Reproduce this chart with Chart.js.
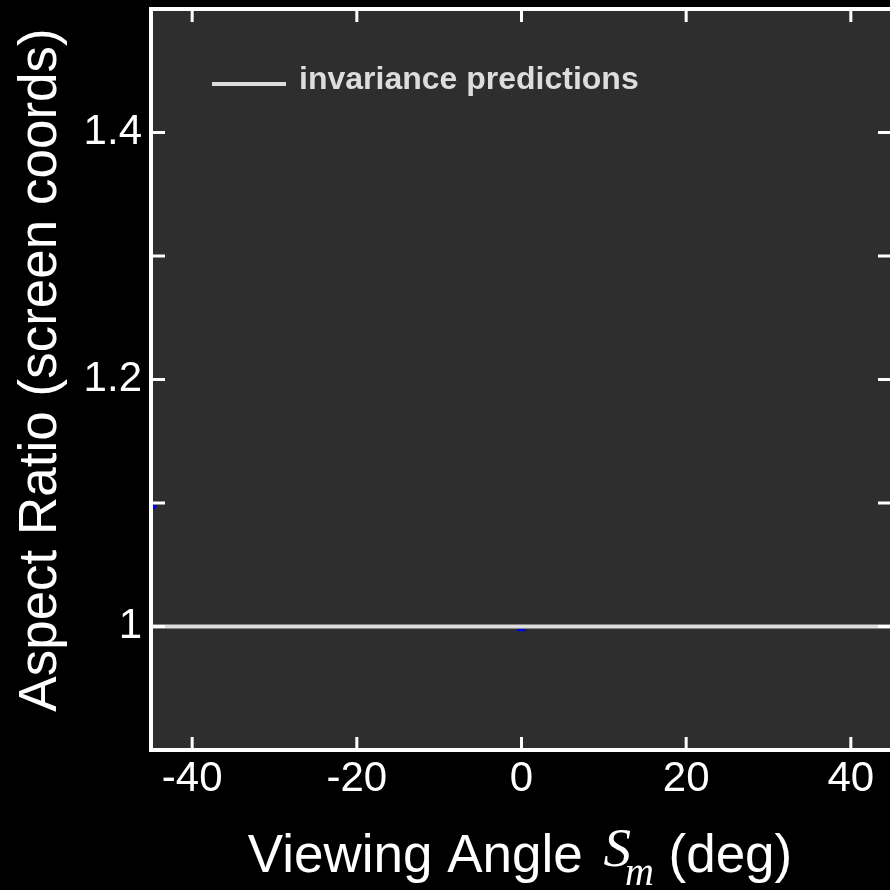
<!DOCTYPE html>
<html>
<head>
<meta charset="utf-8">
<script src="https://cdn.jsdelivr.net/npm/chart.js@4/dist/chart.umd.min.js"></script>
<style>
    html, body { margin: 0; padding: 0; background: #000; overflow: hidden; }
    canvas { display: block; }
</style>
</head>
<body>
<canvas id="aspectChart" width="900" height="890"></canvas>
<script>
/**
 * Aspect ratio vs viewing angle
 */

// axis ticks
const xTickValues = [-40, -20, 0, 20, 40];
const xTickLabels = ['-40', '-20', '0', '20', '40'];
const yTickValues = [1.0, 1.1, 1.2, 1.3, 1.4];
const yTickLabels = ['1', '', '1.2', '', '1.4'];

// invariance prediction line
const invarianceX = [-45, 45];
const invarianceY = [1, 1];

// stray measured marks (almost all hidden)
const measuredX = [0, -44.6];
const measuredY = [0.997, 1.097];

const FONT = "'Liberation Sans', Arial, Helvetica, sans-serif";
const SERIF = "'Liberation Serif', 'Times New Roman', serif";

const ChartModule = {
    chart: null,

    /** plot frame, inside ticks, background */
    framePlugin: {
        id: 'frame',
        beforeDatasetsDraw(chart) {
            const { ctx, chartArea: a } = chart;
            ctx.save();
            ctx.fillStyle = '#2e2e2e';
            ctx.fillRect(a.left, a.top, a.right - a.left, a.bottom - a.top);
            ctx.restore();
        },
        afterDatasetsDraw(chart) {
            const { ctx, chartArea: a, scales } = chart;
            ctx.save();
            ctx.strokeStyle = '#ffffff';
            ctx.lineWidth = 3;
            ctx.beginPath();
            xTickValues.forEach(v => {
                const px = scales.x.getPixelForValue(v);
                ctx.moveTo(px, a.top);
                ctx.lineTo(px, a.top + 13);
                ctx.moveTo(px, a.bottom);
                ctx.lineTo(px, a.bottom - 13);
            });
            yTickValues.forEach(v => {
                const py = scales.y.getPixelForValue(v);
                ctx.moveTo(a.left, py);
                ctx.lineTo(a.left + 14, py);
                ctx.moveTo(a.right, py);
                ctx.lineTo(a.right - 14, py);
            });
            ctx.stroke();

            ctx.lineWidth = 4;
            ctx.strokeRect(a.left, a.top, a.right - a.left, a.bottom - a.top);
            ctx.restore();
        }
    },

    /** legend drawn inside the plot */
    legendPlugin: {
        id: 'insideLegend',
        afterDraw(chart) {
            const { ctx, chartArea: a } = chart;
            const ds = chart.data.datasets[0];
            ctx.save();
            ctx.strokeStyle = ds.borderColor;
            ctx.lineWidth = 4;
            ctx.beginPath();
            ctx.moveTo(a.left + 61, a.top + 75);
            ctx.lineTo(a.left + 135, a.top + 75);
            ctx.stroke();
            ctx.fillStyle = ds.borderColor;
            ctx.font = `bold 32px ${FONT}`;
            ctx.textBaseline = 'middle';
            ctx.fillText(ds.label, a.left + 148, a.top + 71);
            ctx.restore();
        }
    },

    /** axis titles (x title mixes fonts) */
    titlePlugin: {
        id: 'axisTitles',
        afterDraw(chart) {
            const { ctx, chartArea: a } = chart;
            ctx.save();
            ctx.fillStyle = '#ffffff';

            // y title
            ctx.font = `53px ${FONT}`;
            ctx.textAlign = 'center';
            ctx.textBaseline = 'alphabetic';
            ctx.translate(56, 370);
            ctx.rotate(-Math.PI / 2);
            ctx.fillText('Aspect Ratio (screen coords)', 0, 0);
            ctx.setTransform(1, 0, 0, 1, 0, 0);

            // x title
            const parts = [
                { text: 'Viewing Angle ', font: `53px ${FONT}`, dy: 0, dx: 0 },
                { text: 'S', font: `italic 55px ${SERIF}`, dy: -6, dx: 6 },
                { text: 'm', font: `italic 40px ${SERIF}`, dy: 13, dx: -6 },
                { text: ' (deg)', font: `53px ${FONT}`, dy: 0, dx: 0 }
            ];
            ctx.textAlign = 'left';
            let total = 0;
            parts.forEach(p => {
                ctx.font = p.font;
                p.w = ctx.measureText(p.text).width;
                total += p.w + p.dx;
            });
            let x = 520 - total / 2;
            const base = 872;
            parts.forEach(p => {
                ctx.font = p.font;
                x += p.dx;
                ctx.fillText(p.text, x, base + p.dy);
                x += p.w;
            });
            ctx.restore();
        }
    },

    init() {
        const ctx = document.getElementById('aspectChart');

        this.chart = new Chart(ctx, {
            type: 'scatter',
            data: {
                datasets: [
                    {
                        label: 'invariance predictions',
                        data: invarianceX.map((x, i) => ({ x, y: invarianceY[i] })),
                        showLine: true,
                        borderColor: '#dddddd',
                        borderWidth: 4,
                        pointRadius: 0
                    },
                    {
                        label: 'measured',
                        data: measuredX.map((x, i) => ({ x, y: measuredY[i] })),
                        showLine: false,
                        borderColor: '#0000ee',
                        backgroundColor: '#0000ee',
                        pointStyle: ['line', 'rect'],
                        pointRadius: [4.5, 1.5],
                        borderWidth: 2
                    }
                ]
            },
            options: {
                responsive: false,
                animation: false,
                layout: {
                    padding: { top: 9, right: 8, left: 0, bottom: 0 }
                },
                scales: {
                    x: {
                        type: 'linear',
                        min: -45,
                        max: 45,
                        grid: { display: false, drawTicks: false },
                        border: { display: false },
                        afterFit(scale) {
                            scale.height = 140;
                            scale.paddingLeft = 0;
                            scale.paddingRight = 0;
                        },
                        afterBuildTicks(scale) {
                            scale.ticks = xTickValues.map(v => ({ value: v }));
                        },
                        ticks: {
                            color: '#ffffff',
                            padding: 4,
                            font: { family: FONT, size: 42 },
                            callback: (v, i) => xTickLabels[i]
                        }
                    },
                    y: {
                        type: 'linear',
                        min: 0.9,
                        max: 1.5,
                        grid: { display: false, drawTicks: false },
                        border: { display: false },
                        afterFit(scale) {
                            scale.width = 151;
                            scale.paddingTop = 0;
                            scale.paddingBottom = 0;
                        },
                        afterBuildTicks(scale) {
                            scale.ticks = yTickValues.map(v => ({ value: v }));
                        },
                        ticks: {
                            color: '#ffffff',
                            padding: 9,
                            font: { family: FONT, size: 42 },
                            callback: (v, i) => yTickLabels[i]
                        }
                    }
                },
                plugins: {
                    legend: { display: false },
                    tooltip: { enabled: false }
                }
            },
            plugins: [this.framePlugin, this.legendPlugin, this.titlePlugin]
        });
    }
};

ChartModule.init();
</script>
</body>
</html>
